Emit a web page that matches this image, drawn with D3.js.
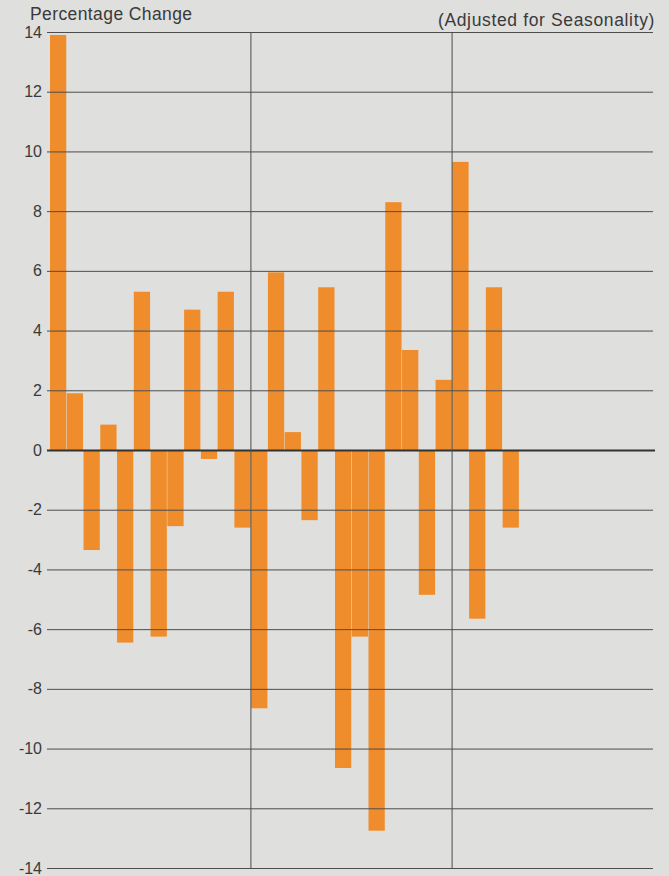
<!DOCTYPE html>
<html>
<head>
<meta charset="utf-8">
<script src="https://cdn.jsdelivr.net/npm/d3@7"></script>
<style>
html,body{margin:0;padding:0;background:#dfdfdd;}
svg{display:block;}
text{font-family:"Liberation Sans",Arial,Helvetica,sans-serif;fill:#3a3a3a;}
</style>
</head>
<body>
<svg id="chart" width="669" height="876"></svg>
<script>
// Data: monthly percentage change (adjusted for seasonality), 36-month axis, 28 observed
const months = d3.range(1, 37).map(d => "M" + d);
const values = [13.9, 1.9, -3.35, 0.85, -6.45, 5.3, -6.25, -2.55, 4.7, -0.3, 5.3, -2.6,
                 -8.65, 5.95, 0.6, -2.35, 5.45, -10.65, -6.25, -12.75, 8.3, 3.35, -4.85, 2.35,
                 9.65, -5.65, 5.45, -2.6];
const yTicks = [-14, -12, -10, -8, -6, -4, -2, 0, 2, 4, 6, 8, 10, 12, 14];
const yearBreaks = ["M13", "M25"];
const titleLeft = "Percentage Change";
const titleRight = "(Adjusted for Seasonality)";

const svg = d3.select("#chart");
const W = 669, H = 876;
const plot = {left: 50, right: 653, top: 32, bottom: 868};

svg.append("rect").attr("width", W).attr("height", H).attr("fill", "#dfdfdd");

const x = d3.scaleBand().domain(months).range([plot.left, plot.right]).paddingInner(0.03).paddingOuter(0);
const y = d3.scaleLinear().domain([-14, 14]).range([plot.bottom, plot.top]);

const data = values.map((v, i) => ({m: months[i], v}));

// bars
svg.append("g").selectAll("rect").data(data).join("rect")
  .attr("x", d => x(d.m))
  .attr("width", x.bandwidth())
  .attr("y", d => y(Math.max(0, d.v)))
  .attr("height", d => Math.abs(y(d.v) - y(0)))
  .attr("fill", "#ef8d2c");

// horizontal gridlines + labels via axis
const yAxis = d3.axisLeft(y).tickValues(yTicks)
  .tickSize(-(plot.right - plot.left + 3))
  .tickPadding(5)
  .tickFormat(d => String(d));
const gy = svg.append("g").attr("transform", `translate(${plot.left - 3},0)`).call(yAxis);
gy.select(".domain").remove();
gy.selectAll(".tick line")
  .attr("stroke-width", d => d === 0 ? 2.2 : 1)
  .attr("stroke", d => d === 0 ? "#333" : "#4d4d4d")
  .attr("x2", d => d === 0 ? (plot.right - plot.left + 5) : (plot.right - plot.left + 3));
gy.selectAll(".tick text").style("font-size", "16px").attr("fill", "#444")
  .style("font-family", "'Liberation Sans',Arial,sans-serif");

// vertical year separators
svg.append("g").selectAll("line").data(yearBreaks).join("line")
  .attr("x1", d => x(d) - x.step() * 0.015).attr("x2", d => x(d) - x.step() * 0.015)
  .attr("y1", plot.top).attr("y2", plot.bottom)
  .attr("stroke", "#4d4d4d").attr("stroke-width", 1);

// titles
svg.append("text").attr("x", 30).attr("y", 19.5)
  .style("font-size", "17.5px").style("letter-spacing", "0.4px").attr("fill", "#444")
  .text(titleLeft);
svg.append("text").attr("x", 655).attr("y", 25.5).attr("text-anchor", "end")
  .style("font-size", "17.5px").style("letter-spacing", "0.64px").attr("fill", "#444")
  .text(titleRight);
</script>
</body>
</html>
